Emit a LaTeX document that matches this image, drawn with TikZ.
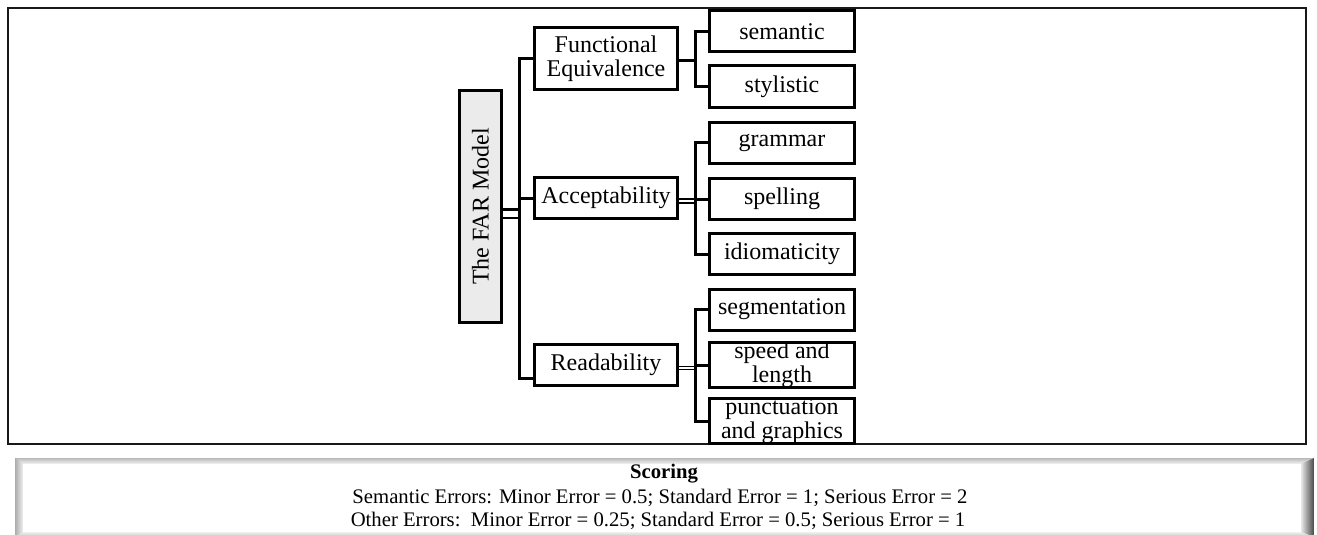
\documentclass[tikz,border=0pt]{standalone}
\usepackage{fontspec}
\setmainfont{Liberation Serif}
\usepackage{graphicx}
\usetikzlibrary{calc}
\definecolor{rootfill}{HTML}{EBEBEB}
\begin{document}
\begin{tikzpicture}[x=1pt,y=-1pt,
  box/.style={draw=black, line width=3pt, fill=white, inner sep=0pt,
    font=\fontsize{24}{23.5}\selectfont, align=center},
  lone/.style={box, minimum width=143pt, minimum height=41pt},
  ltwo/.style={box, minimum width=145pt, minimum height=41pt},
  conn/.style={draw=black, line width=3pt},
  dblroot/.style={draw=black, line width=2.8pt, double=white, double distance=6pt},
  dblacc/.style={draw=black, line width=1.8pt, double=white, double distance=2.4pt},
  dblread/.style={draw=black, line width=1.5pt, double=white, double distance=1.3pt},
  stext/.style={inner sep=0pt, font=\fontsize{20.7}{24}\selectfont},
]
\useasboundingbox (0,0) rectangle (1317,535);

% outer frame
\draw[line width=2pt, black!90] (8,8) rectangle (1306,444);

% trunk coordinates
\coordinate (tx) at (519,0);
\coordinate (sx) at (695,0);

% nodes
\node[box, fill=rootfill, minimum width=42pt, minimum height=232pt] (root) at (480.5,206.5)
  {\rotatebox{90}{The FAR Model}};

\node[lone, minimum height=62pt] (fe) at (606,58.5) {Functional\\Equivalence};
\node[lone] (acc) at (606,198) {Acceptability};
\node[lone] (rd) at (606,365) {Readability};

\node[ltwo] (sem) at (782,31.5) {semantic};
\node[ltwo] (sty) at (782,86.5) {stylistic};
\node[ltwo] (gra) at (782,142.5) {grammar};
\node[ltwo] (spe) at (782,199) {spelling};
\node[ltwo] (idi) at (782,254) {idiomaticity};
\node[ltwo] (seg) at (782,309.5) {segmentation};
\node[ltwo] (spd) at (782,365) {speed and\\length};
\node[ltwo] (pun) at (782,421) {punctuation\\and graphics};

% level-1 connectors
\coordinate (rootout) at ($(root.east)+(0,7)$);
\coordinate (rdin) at ($(rd.west)+(0,13)$);
\draw[dblroot] (rootout) -- (rootout -| tx);
\draw[conn] (fe.west) -- (fe.west -| tx) -- (tx |- rdin) -- (rdin);
\draw[conn] (acc.west) -- (acc.west -| tx);

% FE children
\coordinate (feout) at ($(fe.east)+(0,2)$);
\draw[draw=black, line width=3.8pt] (feout) -- (feout -| sx);
\draw[conn] (sem.west) -- (sem.west -| sx) -- (sx |- sty.west) -- (sty.west);

% Acceptability children
\coordinate (accout) at ($(acc.east)+(0,3)$);
\draw[dblacc] (accout) -- (accout -| sx);
\draw[conn] (gra.west) -- (gra.west -| sx) -- (sx |- idi.west) -- (idi.west);
\draw[conn] (spe.west) -- (spe.west -| sx);

% Readability children
\coordinate (rdout) at ($(rd.east)+(0,3)$);
\draw[dblread] (rdout) -- (rdout -| sx);
\draw[conn] (seg.west) -- (seg.west -| sx) -- (sx |- pun.west) -- (pun.west);
\draw[conn] (spd.west) -- (spd.west -| sx);

% scoring box (bevelled)
\fill[gray!50] (15,458) rectangle (1314,537);
\shade[top color=gray!55, bottom color=gray!8] (15,458) -- (1314,458) -- (1301,464) -- (23,464) -- cycle;
\shade[left color=gray!65, right color=gray!12] (15,458) -- (23,464) -- (23,532) -- (15,537) -- cycle;
\shade[left color=gray!18, right color=black!72] (1314,458) -- (1301,464) -- (1301,532) -- (1314,537) -- cycle;
\shade[top color=gray!12, bottom color=gray!45] (23,532) -- (1301,532) -- (1314,537) -- (15,537) -- cycle;
\fill[white] (23,464) rectangle (1301,532);

\node[stext, font=\fontsize{20.7}{24}\selectfont\bfseries, anchor=base] (sc) at (664,478) {Scoring};
\node[stext, anchor=base] (se) at (660,503) {Semantic Errors: Minor Error = 0.5; Standard Error = 1; Serious Error = 2};
\node[stext, anchor=base] (ot) at (658,526) {Other Errors:\ \ Minor Error = 0.25; Standard Error = 0.5; Serious Error = 1};
\end{tikzpicture}
\end{document}
